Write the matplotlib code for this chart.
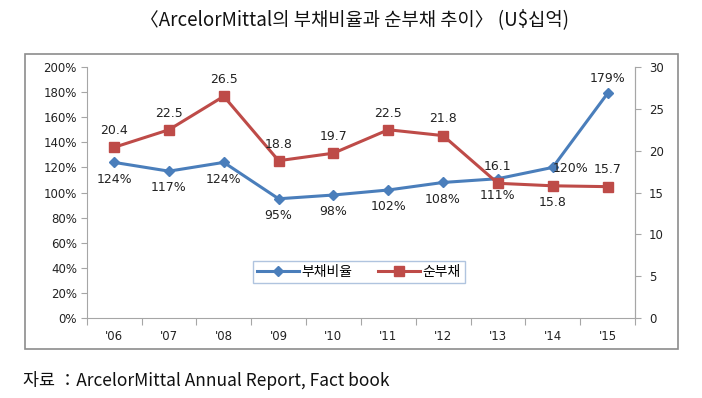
import numpy as np
import matplotlib.pyplot as plt
from matplotlib.patches import Rectangle
from matplotlib.ticker import FuncFormatter

plt.rcParams['font.family'] = ['DejaVu Sans', 'Noto Sans CJK KR']

years = ["'06", "'07", "'08", "'09", "'10", "'11", "'12", "'13", "'14", "'15"]
debt_ratio = [124, 117, 124, 95, 98, 102, 108, 111, 120, 179]   # %
net_debt = [20.4, 22.5, 26.5, 18.8, 19.7, 22.5, 21.8, 16.1, 15.8, 15.7]  # US$ bn

blue = '#4a7ebb'
red = '#be4b48'
axc = '#a6a6a6'
kr = ['Noto Sans CJK KR', 'DejaVu Sans']

fig = plt.figure(figsize=(7.02, 3.98), dpi=100)

# outer chart frame
fig.patches.append(Rectangle((25 / 702, 1 - 349 / 398), 653 / 702, 295 / 398,
                             transform=fig.transFigure, fill=False,
                             edgecolor='#8c8c8c', linewidth=1.2))

ax = fig.add_axes([86.7 / 702, 1 - 318 / 398, (635 - 86.7) / 702, (318 - 67) / 398])
ax2 = ax.twinx()

x = np.arange(len(years)) + 0.5

l1, = ax.plot(x, debt_ratio, color=blue, lw=2.2, marker='D', ms=5, zorder=3)
l2, = ax2.plot(x, net_debt, color=red, lw=2.2, marker='s', ms=7.5, zorder=3)

ax.set_xlim(0, 10)
ax.set_ylim(0, 200)
ax2.set_ylim(0, 30)
ax.set_yticks(np.arange(0, 201, 20))
ax.yaxis.set_major_formatter(FuncFormatter(lambda v, p: f'{v:.0f}%'))
ax2.set_yticks(np.arange(0, 31, 5))

ax.set_xticks(np.arange(0, 11))
ax.set_xticklabels([])
ax.set_xticks(x, minor=True)
ax.set_xticklabels(years, minor=True)
ax.tick_params(axis='x', which='major', length=5, color=axc)
ax.tick_params(axis='x', which='minor', length=0, pad=9, labelsize=8.5, labelcolor='#222222')
ax.tick_params(axis='y', length=4, color=axc, labelsize=8.5, labelcolor='#222222', pad=3)
ax2.tick_params(axis='y', length=4, color=axc, labelsize=8.5, labelcolor='#222222', pad=6)

for a in (ax, ax2):
    a.spines['top'].set_visible(False)
    for s in ('left', 'right', 'bottom'):
        a.spines[s].set_color(axc)
ax2.spines['left'].set_visible(False)
ax2.spines['bottom'].set_visible(False)

# blue labels: offsets in points
blue_off = [(0, -12), (0, -12), (0, -12), (0, -12), (0, -12),
            (0, -12), (0, -12), (0, -12), (13, -1), (0, 11)]
for xi, v, off in zip(x, debt_ratio, blue_off):
    ax.annotate(f'{v}%', (xi, v), xytext=off, textcoords='offset points',
                ha='center', va='center', fontsize=9, color='#222222')

red_off = [(0, 12), (0, 12), (0, 12), (0, 12), (0, 12),
           (0, 12), (0, 12), (0, 12), (0, -12), (0, 12)]
for xi, v, off in zip(x, net_debt, red_off):
    ax2.annotate(f'{v}', (xi, v), xytext=off, textcoords='offset points',
                 ha='center', va='center', fontsize=9, color='#222222')

leg = ax.legend([l1, l2], ['부채비율', '순부채'], loc='center',
                bbox_to_anchor=((359 - 86.7) / 548.3, (318 - 272) / 251),
                ncol=2, frameon=True, fancybox=False,
                prop={'family': kr, 'size': 10}, handlelength=3.0,
                handletextpad=0.2, columnspacing=1.8, borderpad=0.3)
leg.get_frame().set_edgecolor('#9db6d8')
leg.get_frame().set_linewidth(1.0)

fig.text(355 / 702, 1 - 20 / 398, '〈ArcelorMittal의 부채비율과 순부채 추이〉 (U$십억)',
         ha='center', va='center', fontsize=13.5, family=kr, color='#111111')
fig.text(23 / 702, 1 - 381 / 398, '자료 ：ArcelorMittal Annual Report, Fact book',
         ha='left', va='center', fontsize=12.5, family=kr, color='#111111')

fig.savefig('out.png', dpi=100)
